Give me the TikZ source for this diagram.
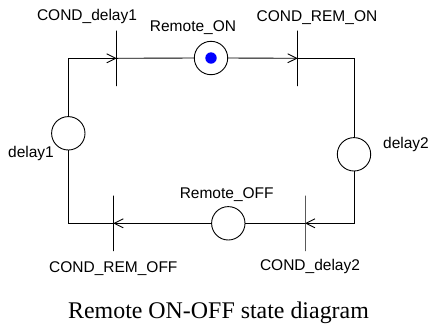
\documentclass[tikz,border=0pt]{standalone}
\usepackage{fontspec}
\usepackage{xcolor}
\usepackage{tikz}
\usetikzlibrary{arrows.meta}
\newfontfamily\arialfont{Liberation Sans}
\newfontfamily\timesfont{Liberation Serif}

\begin{document}
\begin{tikzpicture}[
      x=1pt, y=-1pt,
      place/.style={circle, draw, line width=0.9pt, minimum size=33.4pt, inner sep=0pt},
      trans/.style={rectangle, draw, line width=0.9pt, minimum width=0pt, minimum height=55.6pt, inner sep=0pt},
      token/.style={circle, fill=blue, minimum size=11.4pt, inner sep=0pt},
      lbl/.style={anchor=base, inner sep=0pt, font=\arialfont\fontsize{15.5}{18}\selectfont},
      arc/.style={line width=0.9pt},
      tip/.style={arc, -{Straight Barb[length=9pt, width=9pt, line width=0.9pt]}}
    ]
      \useasboundingbox (0,0) rectangle (430,325);
      % places
      \node[place] (ron) at (211, 58) {};
      \node[token] (tok) at (ron.center) {};
      \node[place] (dly1) at (68.3, 133.3) {};
      \node[place] (dly2) at (354, 154.3) {};
      \node[place] (roff) at (228.3, 223.3) {};
      % transitions
      \node[trans] (cdly1) at (116.7, 58.3) {};
      \node[trans] (cremon) at (297.7, 58.3) {};
      \node[trans] (cdly2) at (305, 223.3) {};
      \node[trans] (cremoff) at (113.3, 223.3) {};
      % arcs
      \draw[tip] (dly1.north) |- (cdly1.center);
      \draw[arc] (cdly1.center) -- (ron.west);
      \draw[tip] (ron.east) -- (cremon.center);
      \draw[arc] (cremon.center) -| (dly2.north);
      \draw[tip] (dly2.south) |- (cdly2.center);
      \draw[arc] (cdly2.center) -- (roff.east);
      \draw[tip] (roff.west) -- (cremoff.center);
      \draw[arc] (cremoff.center) -| (dly1.south);
      % labels
      \node[lbl] (lcdly1) at (87, 20.7) {COND\_delay1};
      \node[lbl] (lron) at (193, 31) {Remote\_ON};
      \node[lbl] (lcremon) at (317, 21.7) {COND\_REM\_ON};
      \node[lbl] (ldly1) at (31, 157.3) {delay1};
      \node[lbl] (ldly2) at (406, 148) {delay2};
      \node[lbl] (lroff) at (226.7, 198) {Remote\_OFF};
      \node[lbl] (lcremoff) at (113.3, 272.7) {COND\_REM\_OFF};
      \node[lbl] (lcdly2) at (310, 270) {COND\_delay2};
      \node[anchor=base, inner sep=0pt, font=\timesfont\fontsize{23.9}{28}\selectfont] (cap) at (218.5, 318.5) {Remote ON-OFF state diagram};
    \end{tikzpicture}
\end{document}
